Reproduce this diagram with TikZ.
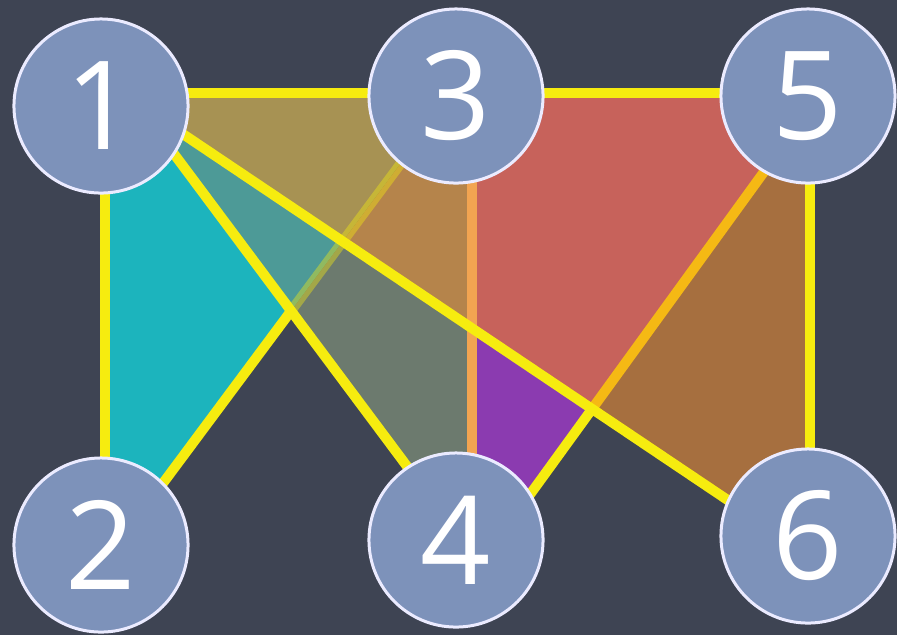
\documentclass[tikz,border=0pt]{standalone}
\usepackage{fontspec}
\setmainfont{Open Sans}
\definecolor{bg}{HTML}{3E4453}
\definecolor{cyanf}{HTML}{1CB4BD}
\definecolor{tealf}{HTML}{4D9A97}
\definecolor{olivef}{HTML}{A79253}
\definecolor{obrownf}{HTML}{B5844B}
\definecolor{ggreenf}{HTML}{6C7A6E}
\definecolor{redf}{HTML}{C7625B}
\definecolor{brownf}{HTML}{A66F3F}
\definecolor{purplef}{HTML}{8B3BB0}
\definecolor{vfill}{HTML}{7D92BA}
\definecolor{yel}{HTML}{F6EC0F}
\definecolor{orl}{HTML}{F2A451}
\definecolor{oryel}{HTML}{F5B914}
\begin{document}
\begin{tikzpicture}[x=0.01cm,y=-0.01cm,
  edge/.style={draw=yel,line width=0.1cm},
  dimedge/.style={draw=yel,line width=0.1cm,draw opacity=0.4},
  oredge/.style={draw=orl,line width=0.1cm},
  oyedge/.style={draw=oryel,line width=0.1cm},
  vtx/.style={circle,fill=vfill,draw=white!92!blue,line width=0.03cm,minimum size=1.74cm,inner sep=0pt,text=white,font=\fontsize{35}{35}\selectfont}]
\useasboundingbox (0,0) rectangle (897,635);
\fill[bg] (0,0) rectangle (897,635);
% key points
\coordinate (t1) at (122,93);
\coordinate (t3) at (453,93);
\coordinate (t4) at (472,93);
\coordinate (t5) at (821,93);
\coordinate (a14) at (139,107);
\coordinate (b14) at (462,540);
\coordinate (a16) at (101,79);
\coordinate (b16) at (808,554);
\coordinate (a23) at (117,545);
\coordinate (b23) at (451,96);
\coordinate (a45) at (497,540);
\coordinate (b45) at (819,96);
\coordinate (x1) at (291,311);
\coordinate (x2) at (343,241);
\coordinate (x3) at (472,328);
\coordinate (x4) at (592,409);
\coordinate (o16) at (135,102);
\coordinate (l1) at (105,107);
\coordinate (l2) at (105,545);
\coordinate (r5) at (810,108);
\coordinate (r6) at (810,555);
\coordinate (m4) at (472,540);
\coordinate (e1) at (101,93);
\coordinate (e5) at (810,93);
\coordinate (v1) at (105,105);
\coordinate (v2) at (105,545);
\coordinate (w5) at (810,96);
\coordinate (w6) at (810,536);
\coordinate (c3) at (472,96);
% faces
\fill[cyanf] (l1) -- (l2) -- (a23) -- (x1) -- (a14) -- cycle;
\fill[tealf] (o16) -- (x1) -- (x2) -- cycle;
\fill[olivef] (t1) -- (t3) -- (x2) -- cycle;
\fill[obrownf] (t3) -- (t4) -- (x3) -- (x2) -- cycle;
\fill[ggreenf] (x1) -- (x2) -- (x3) -- (m4) -- (b14) -- cycle;
\fill[redf] (t4) -- (t5) -- (x4) -- (x3) -- cycle;
\fill[brownf] (x4) -- (r5) -- (r6) -- cycle;
\fill[purplef] (x3) -- (x4) -- (a45) -- (m4) -- cycle;
% edges
\draw[oredge] (c3) -- (m4);
\draw[dimedge] (x1) -- (b23);
\draw[oyedge] (x4) -- (b45);
\draw[edge] (a23) -- (x1);
\draw[edge] (a45) -- (x4);
\draw[edge] (e1) -- (e5);
\draw[edge] (v1) -- (v2);
\draw[edge] (w5) -- (w6);
\draw[edge] (a14) -- (b14);
\draw[edge] (a16) -- (b16);
% vertices
\node[vtx] (n1) at (101,106) {1};
\node[vtx] (n3) at (456,96) {3};
\node[vtx] (n5) at (808,96) {5};
\node[vtx] (n2) at (101,545) {2};
\node[vtx] (n4) at (456,540) {4};
\node[vtx] (n6) at (808,536) {6};
\end{tikzpicture}
\end{document}
